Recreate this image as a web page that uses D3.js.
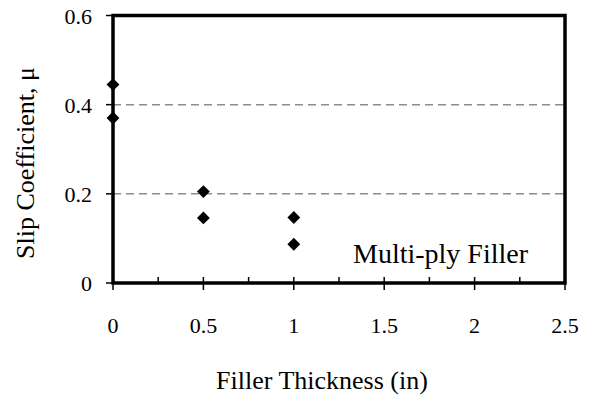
<!DOCTYPE html>
<html lang="en">
<head>
<meta charset="UTF-8" />
<title>Slip Coefficient vs Filler Thickness</title>
<script src="https://cdn.jsdelivr.net/npm/d3@7"></script>
<style>
  body { margin: 0; background: #fff; }
  svg text { font-family: "Liberation Serif", serif; }
</style>
</head>
<body>
<script>
// data
var thickness = [0, 0, 0.5, 0.5, 1, 1];
var slipCoef  = [0.445, 0.37, 0.205, 0.146, 0.147, 0.087];
var xTicks = [0, 0.5, 1, 1.5, 2, 2.5];
var xMinor = [0.25, 0.75, 1.25, 1.75, 2.25];
var yTicks = [0, 0.2, 0.4, 0.6];
var gridVals = [0.2, 0.4];

var width = 593, height = 400;
var margin = { top: 15.5, right: 28, bottom: 117, left: 113 };

var svg = d3.select("body").append("svg")
  .attr("width", width)
  .attr("height", height);

var xScale = d3.scaleLinear().domain([0, 2.5]).range([margin.left, width - margin.right]);
var yScale = d3.scaleLinear().domain([0, 0.6]).range([height - margin.bottom, margin.top]);

// dashed gridlines
svg.selectAll(".grid")
  .data(gridVals)
  .enter().append("line")
  .attr("class", "grid")
  .attr("x1", xScale(0)).attr("x2", xScale(2.5))
  .attr("y1", function(d) { return yScale(d); })
  .attr("y2", function(d) { return yScale(d); })
  .attr("stroke", "#8c8c8c")
  .attr("stroke-width", 1.5)
  .attr("stroke-dasharray", "8,5");

// minor x ticks (inside only)
svg.selectAll(".xminor")
  .data(xMinor)
  .enter().append("line")
  .attr("x1", function(d) { return xScale(d); })
  .attr("x2", function(d) { return xScale(d); })
  .attr("y1", yScale(0)).attr("y2", yScale(0) - 6)
  .attr("stroke", "#000").attr("stroke-width", 1.5);

// major x ticks (cross)
svg.selectAll(".xmajor")
  .data(xTicks)
  .enter().append("line")
  .attr("x1", function(d) { return xScale(d); })
  .attr("x2", function(d) { return xScale(d); })
  .attr("y1", function(d) { return d === 0 ? yScale(0) : yScale(0) - 6; })
  .attr("y2", yScale(0) + 7)
  .attr("stroke", "#000").attr("stroke-width", 1.5);

// y ticks (outside)
svg.selectAll(".ytick")
  .data(yTicks)
  .enter().append("line")
  .attr("x1", xScale(0) - 7).attr("x2", xScale(0))
  .attr("y1", function(d) { return yScale(d); })
  .attr("y2", function(d) { return yScale(d); })
  .attr("stroke", "#000").attr("stroke-width", 1.5);

// plot frame
svg.append("rect")
  .attr("x", xScale(0)).attr("y", yScale(0.6))
  .attr("width", xScale(2.5) - xScale(0))
  .attr("height", yScale(0) - yScale(0.6))
  .attr("fill", "none")
  .attr("stroke", "#000")
  .attr("stroke-width", 3.5);

// tick labels
svg.selectAll(".xlabel")
  .data(xTicks)
  .enter().append("text")
  .attr("x", function(d) { return xScale(d); })
  .attr("y", yScale(0) + 50)
  .attr("text-anchor", "middle")
  .style("font-size", "22px")
  .text(function(d) { return d; });

svg.selectAll(".ylabel")
  .data(yTicks)
  .enter().append("text")
  .attr("x", xScale(0) - 21)
  .attr("y", function(d) { return yScale(d) + 8; })
  .attr("text-anchor", "end")
  .style("font-size", "22px")
  .text(function(d) { return d === 0 ? "0" : d.toFixed(1); });

// points
var diamond = d3.symbol().type(d3.symbolDiamond2).size(105);
svg.selectAll(".pt")
  .data(thickness)
  .enter().append("path")
  .attr("d", diamond)
  .attr("transform", function(d, i) {
    return "translate(" + xScale(d) + "," + yScale(slipCoef[i]) + ")";
  })
  .attr("fill", "#000");

// annotation
svg.append("text")
  .attr("x", 353).attr("y", 263)
  .style("font-size", "28px")
  .text("Multi-ply Filler");

// axis titles
svg.append("text")
  .attr("x", 322).attr("y", 389)
  .attr("text-anchor", "middle")
  .style("font-size", "26px")
  .text("Filler Thickness (in)");

svg.append("text")
  .attr("transform", "translate(34,163) rotate(-90)")
  .attr("text-anchor", "middle")
  .style("font-size", "26px")
  .text("Slip Coefficient, \u03bc");
</script>
</body>
</html>
